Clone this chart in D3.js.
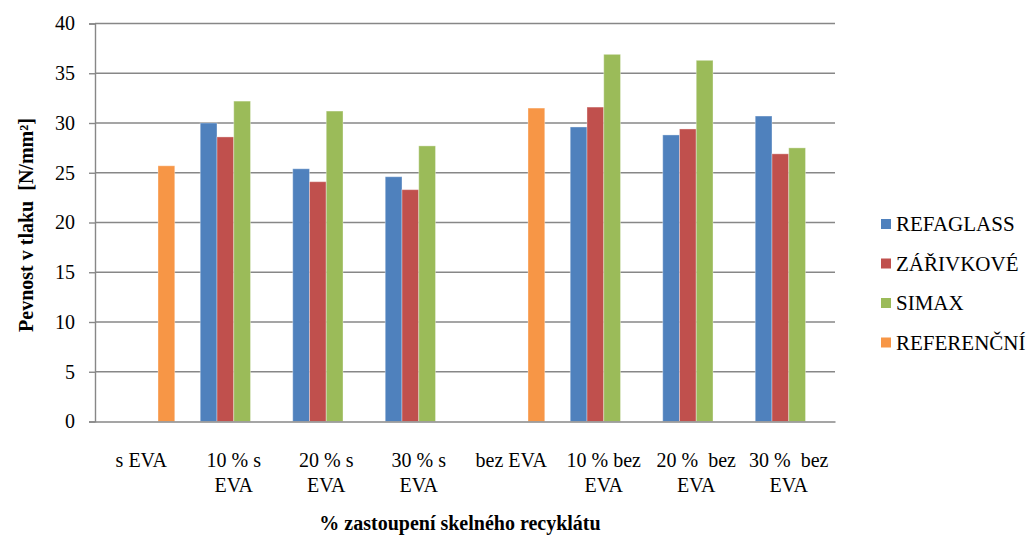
<!DOCTYPE html>
<html><head><meta charset="utf-8">
<script src="https://cdn.jsdelivr.net/npm/d3@7"></script>
<style>
html,body{margin:0;padding:0;background:#fff;}
svg, svg text{font-family:"Liberation Serif","Times New Roman",Tinos,"DejaVu Serif",serif !important;}
svg{display:block;}
</style></head>
<body><svg id="c" width="1029" height="537"></svg>
<script>
const categories = ["s EVA","10 % s EVA","20 % s EVA","30 % s EVA","bez EVA","10 % bez EVA","20 % bez EVA","30 % bez EVA"];
const categoryLines = [["s EVA"],["10 % s","EVA"],["20 % s","EVA"],["30 % s","EVA"],["bez EVA"],["10 % bez","EVA"],["20 %  bez","EVA"],["30 %  bez","EVA"]];
const seriesNames = ["REFAGLASS","ZÁŘIVKOVÉ","SIMAX","REFERENČNÍ"];
const refaglass  = [null, 30.0, 25.4, 24.6, null, 29.6, 28.8, 30.7];
const zarivkove  = [null, 28.6, 24.1, 23.3, null, 31.6, 29.4, 26.9];
const simax      = [null, 32.2, 31.2, 27.7, null, 36.9, 36.3, 27.5];
const referencni = [25.7, null, null, null, 31.5, null, null, null];
const yTicks = [0,5,10,15,20,25,30,35,40];
const colors = ["#4F81BD","#C0504D","#9BBB59","#F79646"];
const seriesValues = [refaglass, zarivkove, simax, referencni];

(function(){
const svg = d3.select("#c");
const mLeft = 95, mRight = 835, mTop = 23.5, mBottom = 421.5;
const x0 = d3.scaleBand().domain(categories).range([mLeft, mRight]).paddingInner(0).paddingOuter(0);
const x1 = d3.scaleBand().domain(seriesNames).range([0, x0.bandwidth()]).paddingInner(0).paddingOuter(0.76);
const y = d3.scaleLinear().domain([0, 40]).range([mBottom, mTop]);
const grid = "#878787";

svg.append("g").selectAll("line").data(yTicks.filter(t => t > 0)).join("line")
  .attr("x1", mLeft).attr("x2", mRight)
  .attr("y1", d => y(d)).attr("y2", d => y(d))
  .attr("stroke", grid).attr("stroke-width", 1.4);

const flat = [];
seriesValues.forEach((arr, si) => arr.forEach((v, ci) => { if (v != null) flat.push({s: seriesNames[si], c: categories[ci], v, si}); }));
svg.append("g").selectAll("rect").data(flat).join("rect")
  .attr("x", d => x0(d.c) + x1(d.s))
  .attr("width", x1.bandwidth())
  .attr("y", d => y(d.v))
  .attr("height", d => y(0) - y(d.v))
  .attr("fill", d => colors[d.si])
  .attr("stroke", "rgba(255,255,255,0.35)").attr("stroke-width", 1);

const yAxis = svg.append("g").attr("transform", `translate(${mLeft},0)`)
  .call(d3.axisLeft(y).tickValues(yTicks).tickSize(6).tickPadding(14).tickFormat(d3.format("d")));
yAxis.select(".domain").attr("stroke", grid).attr("stroke-width", 1.4);
yAxis.selectAll(".tick line").attr("stroke", grid).attr("stroke-width", 1.4);
yAxis.selectAll(".tick text").attr("font-size", 20).attr("fill", "#000");

const xAxis = svg.append("g").attr("transform", `translate(0,${mBottom})`)
  .call(d3.axisBottom(x0).tickSize(0).tickFormat(""));
xAxis.select(".domain").attr("stroke", grid).attr("stroke-width", 1.4);
xAxis.selectAll(".tick").each(function(d, i) {
  const t = d3.select(this).append("text").attr("fill", "#000").attr("font-size", 20)
    .attr("text-anchor", "middle").style("white-space", "pre");
  categoryLines[i].forEach((ln, k) => {
    t.append("tspan").attr("x", 0).attr("y", 45 + k * 25).text(ln);
  });
});

svg.append("text").attr("x", 460).attr("y", 530).attr("text-anchor", "middle")
  .attr("font-size", 20).attr("font-weight", "bold").text("% zastoupení skelného recyklátu");
svg.append("text").attr("transform", "translate(33,225) rotate(-90)").attr("text-anchor", "middle")
  .attr("font-size", 20).attr("font-weight", "bold").style("white-space", "pre").text("Pevnost v tlaku  [N/mm²]");

const lg = svg.append("g").selectAll("g").data(seriesNames).join("g")
  .attr("transform", (d, i) => `translate(881,${224 + i * 39.5})`);
lg.append("rect").attr("x", 0).attr("y", -5).attr("width", 10).attr("height", 10).attr("fill", (d, i) => colors[i]);
lg.append("text").attr("x", 15).attr("y", 0).attr("dy", "0.35em").attr("font-size", 21).text(d => d);
})();
</script></body></html>
